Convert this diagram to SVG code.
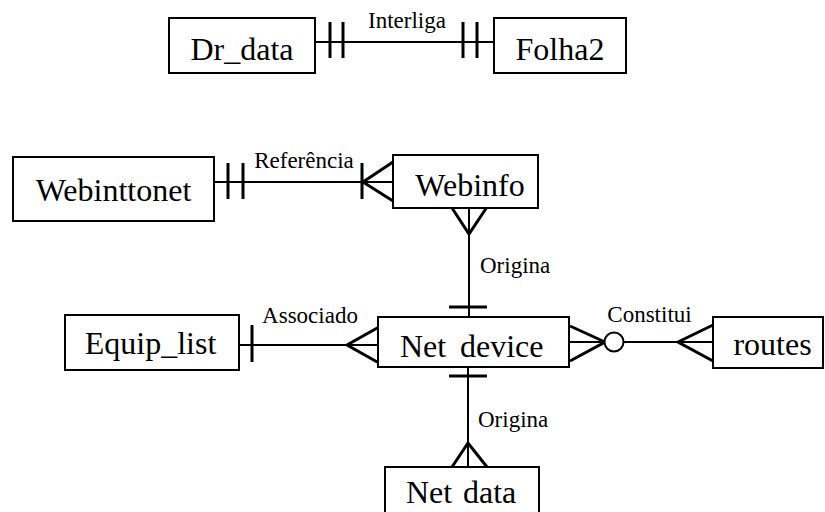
<svg xmlns="http://www.w3.org/2000/svg" width="825" height="512" viewBox="0 0 825 512">
<style>
.box{fill:#fff;stroke:#000;stroke-width:2}
.big{font-family:"Liberation Serif","Times New Roman",serif;font-size:32px;fill:#000;text-anchor:middle}
.lbl{font-family:"Liberation Serif","Times New Roman",serif;font-size:23px;fill:#000}
.ln{stroke:#000;stroke-width:2;fill:none}
.bar{stroke:#000;stroke-width:3;fill:none}
</style>
<rect width="825" height="512" fill="#fff"/>
<g id="connectors">
  <!-- Dr_data - Folha2 -->
  <line class="ln" x1="315" y1="42" x2="494" y2="42"/>
  <line class="bar" x1="330" y1="22" x2="330" y2="58"/>
  <line class="bar" x1="343" y1="22" x2="343" y2="58"/>
  <line class="bar" x1="463" y1="22" x2="463" y2="58"/>
  <line class="bar" x1="477" y1="22" x2="477" y2="58"/>
  <text class="lbl" x="407" y="28" text-anchor="middle">Interliga</text>
  <!-- Webinttonet - Webinfo -->
  <line class="ln" x1="214" y1="182" x2="393" y2="182"/>
  <line class="bar" x1="228" y1="163" x2="228" y2="199"/>
  <line class="bar" x1="243" y1="163" x2="243" y2="199"/>
  <line class="bar" x1="362" y1="163" x2="362" y2="199"/>
  <polyline class="bar" points="393,162 363,182 393,201"/>
  <text class="lbl" x="304" y="168" text-anchor="middle">Referência</text>
  <!-- Webinfo - Net device -->
  <line class="ln" x1="469" y1="208" x2="469" y2="317"/>
  <polyline class="bar" points="452,208 469,234 487,207"/>
  <line class="bar" x1="449" y1="307" x2="487" y2="307"/>
  <text class="lbl" x="480" y="273">Origina</text>
  <!-- Equip_list - Net device -->
  <line class="ln" x1="239" y1="345" x2="378" y2="345"/>
  <line class="bar" x1="252" y1="325" x2="252" y2="362"/>
  <polyline class="bar" points="379,327 347,345 379,363"/>
  <text class="lbl" x="310" y="323" text-anchor="middle">Associado</text>
  <!-- Net device - routes -->
  <line class="ln" x1="569" y1="342" x2="605" y2="342"/>
  <polyline class="bar" points="570,326 605,342 570,361"/>
  <circle cx="614" cy="342" r="9.5" fill="#fff" stroke="#000" stroke-width="2"/>
  <line class="ln" x1="623.5" y1="342" x2="713" y2="342"/>
  <polyline class="bar" points="713,325 678,342 713,361"/>
  <text class="lbl" x="649.5" y="322" text-anchor="middle">Constitui</text>
  <!-- Net device - Net data -->
  <line class="ln" x1="468" y1="367" x2="468" y2="467"/>
  <line class="bar" x1="449" y1="376" x2="487" y2="376"/>
  <polyline class="bar" points="452,467 468,443 487,467"/>
  <text class="lbl" x="478" y="427">Origina</text>
</g>
<g id="Dr_data"><rect class="box" x="169" y="18" width="146" height="55"/><text class="big" x="242" y="60">Dr_data</text></g>
<g id="Folha2"><rect class="box" x="494" y="18" width="132" height="55"/><text class="big" x="560" y="60">Folha2</text></g>
<g id="Webinttonet"><rect class="box" x="13" y="157" width="201" height="64"/><text class="big" x="113.5" y="201">Webinttonet</text></g>
<g id="Webinfo"><rect class="box" x="393" y="155" width="145" height="53"/><text class="big" x="470" y="196">Webinfo</text></g>
<g id="Equip_list"><rect class="box" x="65" y="315" width="174" height="55"/><text class="big" x="150.5" y="354">Equip_list</text></g>
<g id="Net_device"><rect class="box" x="378" y="317" width="191" height="50"/><text class="big" y="357" style="text-anchor:start"><tspan x="400">Net</tspan> <tspan x="460">device</tspan></text></g>
<g id="routes"><rect class="box" x="713" y="317" width="110" height="51"/><text class="big" x="772.5" y="355">routes</text></g>
<g id="Net_data"><rect class="box" x="385" y="467" width="154" height="60"/><text class="big" y="503" style="text-anchor:start"><tspan x="406">Net</tspan> <tspan x="463">data</tspan></text></g>
</svg>
